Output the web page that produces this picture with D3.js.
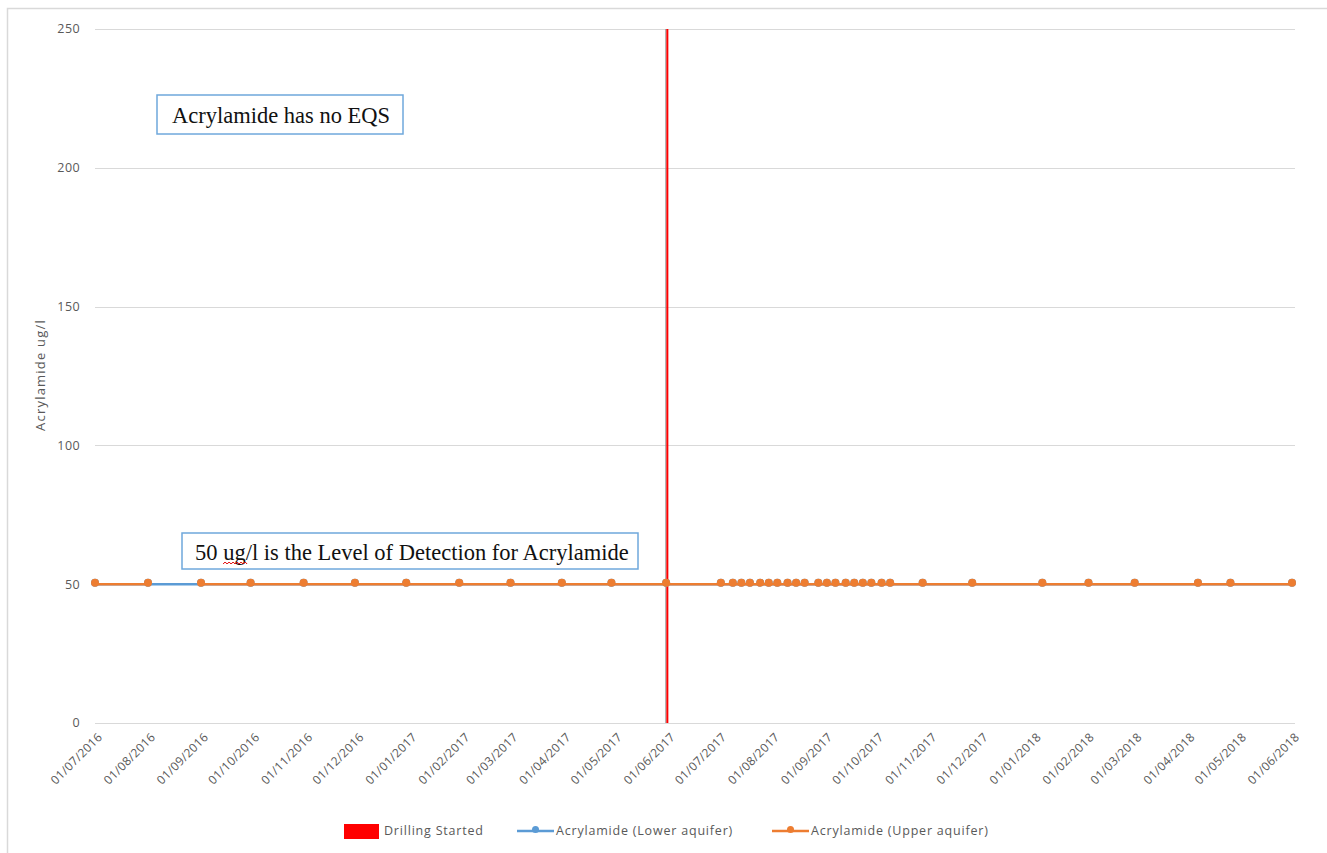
<!DOCTYPE html>
<html>
<head>
<meta charset="utf-8">
<script src="https://cdn.jsdelivr.net/npm/d3@7"></script>
<style>
  html, body { margin: 0; padding: 0; background: #ffffff; }
  svg { display: block; }
</style>
</head>
<body>
<svg id="chart" width="1327" height="853"></svg>
<script>
// ---------------- DATA ----------------
const sampleDates = [
  "2016-07-01", "2016-08-01", "2016-08-16", "2016-09-01", "2016-09-30", "2016-10-31",
  "2016-11-30", "2016-12-30", "2017-01-30", "2017-03-01", "2017-03-31",
  "2017-04-29", "2017-05-31",
  "2017-07-02", "2017-07-09", "2017-07-14", "2017-07-19", "2017-07-25",
  "2017-07-30", "2017-08-04", "2017-08-10", "2017-08-15", "2017-08-20",
  "2017-08-28", "2017-09-02", "2017-09-07", "2017-09-13", "2017-09-18",
  "2017-09-23", "2017-09-28", "2017-10-04", "2017-10-09", "2017-10-28",
  "2017-11-26", "2018-01-06", "2018-02-02", "2018-03-01", "2018-04-07",
  "2018-04-26", "2018-06-01"
];
const upperValues = [
  50, 50, null, 50, 50, 50,
  50, 50, 50, 50, 50,
  50, 50,
  50, 50, 50, 50, 50,
  50, 50, 50, 50, 50,
  50, 50, 50, 50, 50,
  50, 50, 50, 50, 50,
  50, 50, 50, 50, 50,
  50, 50
];
const lowerValues = [
  50, 50, null, 50, 50, 50,
  50, 50, 50, 50, 50,
  50, 50,
  50, 50, 50, 50, 50,
  50, 50, 50, 50, 50,
  50, 50, 50, 50, 50,
  50, 50, 50, 50, 50,
  50, 50, 50, 50, 50,
  50, 50
];
const drillDates = ["2017-06-01"];
const drillValues = [250];

const xTickDates = [
  "2016-07-01", "2016-08-01", "2016-09-01", "2016-10-01", "2016-11-01", "2016-12-01",
  "2017-01-01", "2017-02-01", "2017-03-01", "2017-04-01", "2017-05-01", "2017-06-01",
  "2017-07-01", "2017-08-01", "2017-09-01", "2017-10-01", "2017-11-01", "2017-12-01",
  "2018-01-01", "2018-02-01", "2018-03-01", "2018-04-01", "2018-05-01", "2018-06-01"
];
const xTickLabels = [
  "01/07/2016", "01/08/2016", "01/09/2016", "01/10/2016", "01/11/2016", "01/12/2016",
  "01/01/2017", "01/02/2017", "01/03/2017", "01/04/2017", "01/05/2017", "01/06/2017",
  "01/07/2017", "01/08/2017", "01/09/2017", "01/10/2017", "01/11/2017", "01/12/2017",
  "01/01/2018", "01/02/2018", "01/03/2018", "01/04/2018", "01/05/2018", "01/06/2018"
];
const yTicks = [0, 50, 100, 150, 200, 250];

const yAxisTitle = "Acrylamide ug/l";
const legendLabels = ["Drilling Started", "Acrylamide (Lower aquifer)", "Acrylamide (Upper aquifer)"];
const note1 = "Acrylamide has no EQS";
const note2 = "50 ug/l is the Level of Detection for Acrylamide";

// ---------------- SETUP ----------------
const parse = d3.timeParse("%Y-%m-%d");
const svg = d3.select("#chart");
const W = 1327, H = 853;

const colors = { drill: "#ff0000", lower: "#5b9bd5", upper: "#ed7d31", grid: "#d9d9d9", text: "#595959" };
const uiFont = "'Open Sans', 'Noto Sans', sans-serif";
const serifFont = "'Liberation Serif', 'DejaVu Serif', serif";

const x = d3.scaleTime()
  .domain([parse(xTickDates[0]), parse(xTickDates[xTickDates.length - 1])])
  .range([95, 1292]);
const y = d3.scaleLinear().domain([0, 250]).range([723, 29]);

// outer chart frame
svg.append("rect")
  .attr("x", 7.5).attr("y", 8.5).attr("width", W + 10).attr("height", H + 10)
  .attr("fill", "#ffffff").attr("stroke", "#d9d9d9").attr("stroke-width", 1.5);

// gridlines
svg.append("g").selectAll("line").data(yTicks).join("line")
  .attr("x1", 95).attr("x2", 1295)
  .attr("y1", d => Math.round(y(d)) + 0.5).attr("y2", d => Math.round(y(d)) + 0.5)
  .attr("stroke", colors.grid).attr("stroke-width", 1.2);

// y tick labels
svg.append("g").selectAll("text").data(yTicks).join("text")
  .attr("x", 80).attr("y", d => y(d)).attr("dy", "0.35em")
  .attr("text-anchor", "end")
  .attr("font-family", uiFont).attr("font-size", 12.5).attr("letter-spacing", 0.4)
  .attr("fill", colors.text)
  .text(d => d);

// y axis title
svg.append("text")
  .attr("transform", "translate(45,375) rotate(-90)")
  .attr("text-anchor", "middle")
  .attr("font-family", uiFont).attr("font-size", 13).attr("letter-spacing", 1.2)
  .attr("fill", colors.text)
  .text(yAxisTitle);

// x tick labels
svg.append("g").selectAll("text").data(xTickDates).join("text")
  .attr("transform", d => `translate(${x(parse(d)) + 5},${735}) rotate(-45)`)
  .attr("text-anchor", "end").attr("dy", "0.35em")
  .attr("font-family", uiFont).attr("font-size", 12).attr("letter-spacing", 0.3)
  .attr("fill", colors.text)
  .text((d, i) => xTickLabels[i]);

// drilling started bar
const drill = drillDates.map((d, i) => ({ date: parse(d), value: drillValues[i] }));
svg.append("g").selectAll("line.gray").data(drill).join("line")
  .attr("x1", d => x(d.date) - 2).attr("x2", d => x(d.date) - 2)
  .attr("y1", d => y(d.value)).attr("y2", y(0))
  .attr("stroke", "#8c8c8c").attr("stroke-width", 1);
svg.append("g").selectAll("rect").data(drill).join("rect")
  .attr("x", d => x(d.date) - 1.5).attr("width", 2)
  .attr("y", d => y(d.value)).attr("height", d => y(0) - y(d.value))
  .attr("fill", colors.drill);

// series
function seriesData(vals) {
  return sampleDates.map((d, i) => ({ date: parse(d), value: vals[i] }));
}
const lower = seriesData(lowerValues);
const upper = seriesData(upperValues);

// lower aquifer: connected across empty cells
const lowerDefined = lower.filter(d => d.value != null);
svg.append("path")
  .datum(lowerDefined)
  .attr("fill", "none").attr("stroke", colors.lower).attr("stroke-width", 2.5)
  .attr("d", d3.line().x(d => x(d.date)).y(d => y(d.value)));
svg.append("g").selectAll("circle").data(lowerDefined).join("circle")
  .attr("cx", d => x(d.date)).attr("cy", d => y(d.value) - 1.5).attr("r", 4)
  .attr("fill", colors.lower);

// upper aquifer: gaps at empty cells
svg.append("path")
  .datum(upper)
  .attr("fill", "none").attr("stroke", colors.upper).attr("stroke-width", 2.5)
  .attr("d", d3.line().defined(d => d.value != null).x(d => x(d.date)).y(d => y(d.value)));
svg.append("g").selectAll("circle").data(upper.filter(d => d.value != null)).join("circle")
  .attr("cx", d => x(d.date)).attr("cy", d => y(d.value) - 1.5).attr("r", 4)
  .attr("fill", colors.upper);

// annotation boxes
function noteBox(bx, by, bw, bh, txt, tx, ty) {
  const g = svg.append("g");
  g.append("rect").attr("x", bx).attr("y", by).attr("width", bw).attr("height", bh)
    .attr("fill", "#ffffff").attr("stroke", "#6fa8dc").attr("stroke-width", 1.5);
  const t = g.append("text").attr("x", tx).attr("y", ty)
    .attr("font-family", serifFont).attr("font-size", 22.5).attr("fill", "#111111")
    .text(txt);
  return t;
}
noteBox(157, 95, 246, 39, note1, 172, 123);
const t2 = noteBox(182, 533, 456, 36, note2, 195, 560);

// red spell-check squiggle under "ug"
const n = t2.node();
const ugStart = note2.indexOf("ug");
const sx = 195 + n.getSubStringLength(0, ugStart);
const sw = n.getSubStringLength(ugStart, 2);
let zz = `M${sx},564`;
for (let k = 0, px = sx; px < sx + sw; k++) {
  px += 2;
  zz += ` L${px},${k % 2 === 0 ? 562 : 564}`;
}
svg.append("path").attr("d", zz).attr("fill", "none").attr("stroke", "#e00000").attr("stroke-width", 1);

// legend
const lg = svg.append("g").attr("font-family", uiFont).attr("font-size", 12.5)
  .attr("letter-spacing", 0.8).attr("fill", colors.text);
lg.append("rect").attr("x", 344).attr("y", 824).attr("width", 35).attr("height", 15).attr("fill", colors.drill);
lg.append("text").attr("x", 384).attr("y", 831).attr("dy", "0.35em").text(legendLabels[0]);
[[517, colors.lower, legendLabels[1]], [772, colors.upper, legendLabels[2]]].forEach(([lx, c, lab]) => {
  lg.append("line").attr("x1", lx).attr("x2", lx + 37).attr("y1", 831).attr("y2", 831)
    .attr("stroke", c).attr("stroke-width", 2.5);
  lg.append("circle").attr("cx", lx + 18.5).attr("cy", 829.5).attr("r", 3.5).attr("fill", c);
  lg.append("text").attr("x", lx + 39).attr("y", 831).attr("dy", "0.35em").text(lab);
});
</script>
</body>
</html>
